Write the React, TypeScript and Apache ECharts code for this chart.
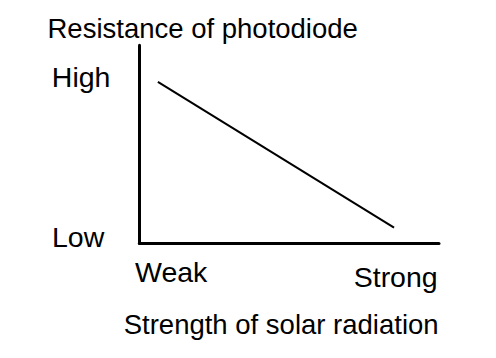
import React, { useEffect, useRef } from "react";
import * as echarts from "echarts";

const strength: number[] = [6.2, 85];
const resistance: number[] = [81.5, 7.9];
const yLabels: string[] = ["High", "Low"];
const xLabels: string[] = ["Weak", "Strong"];
const yTitle = "Resistance of photodiode";
const xTitle = "Strength of solar radiation";

const FONT = "Liberation Sans, Arial, Helvetica, sans-serif";
const FS = 28.5;
const FS_TITLE = 27.5;

export default function App() {
  const ref = useRef<HTMLDivElement>(null);
  useEffect(() => {
    if (!ref.current) return;
    const chart = echarts.init(ref.current, undefined, { renderer: "svg" });
    const txt = (text: string, x: number, y: number, fs: number) => ({
      type: "text",
      x,
      y,
      style: {
        text,
        fill: "#000",
        font: `${fs}px ${FONT}`,
        align: "left",
        verticalAlign: "middle",
      },
    });
    chart.setOption({
      animation: false,
      backgroundColor: "#fff",
      grid: { left: 139.3, top: 45.3, right: 57, bottom: 114.7 },
      xAxis: {
        type: "value",
        min: 0,
        max: 100,
        axisLine: { show: true, lineStyle: { color: "#000", width: 3 } },
        axisTick: { show: false },
        axisLabel: { show: false },
        splitLine: { show: false },
      },
      yAxis: {
        type: "value",
        min: 0,
        max: 100,
        axisLine: { show: true, lineStyle: { color: "#000", width: 3 } },
        axisTick: { show: false },
        axisLabel: { show: false },
        splitLine: { show: false },
      },
      series: [
        {
          type: "line",
          data: strength.map((x, i) => [x, resistance[i]]),
          symbol: "none",
          lineStyle: { color: "#000", width: 2 },
        },
      ],
      graphic: [
        txt(yTitle, 47.5, 28.2, FS_TITLE),
        txt(yLabels[0], 51.8, 76.8, FS),
        txt(yLabels[1], 52, 236.8, FS),
        txt(xLabels[0], 135, 271.8, FS),
        txt(xLabels[1], 353.7, 277.1, FS),
        txt(xTitle, 123.7, 324.8, FS_TITLE),
      ],
    });
    return () => chart.dispose();
  }, []);
  return (
    <div
      ref={ref}
      style={{ position: "fixed", left: 0, top: 0, width: 496, height: 358 }}
    />
  );
}
